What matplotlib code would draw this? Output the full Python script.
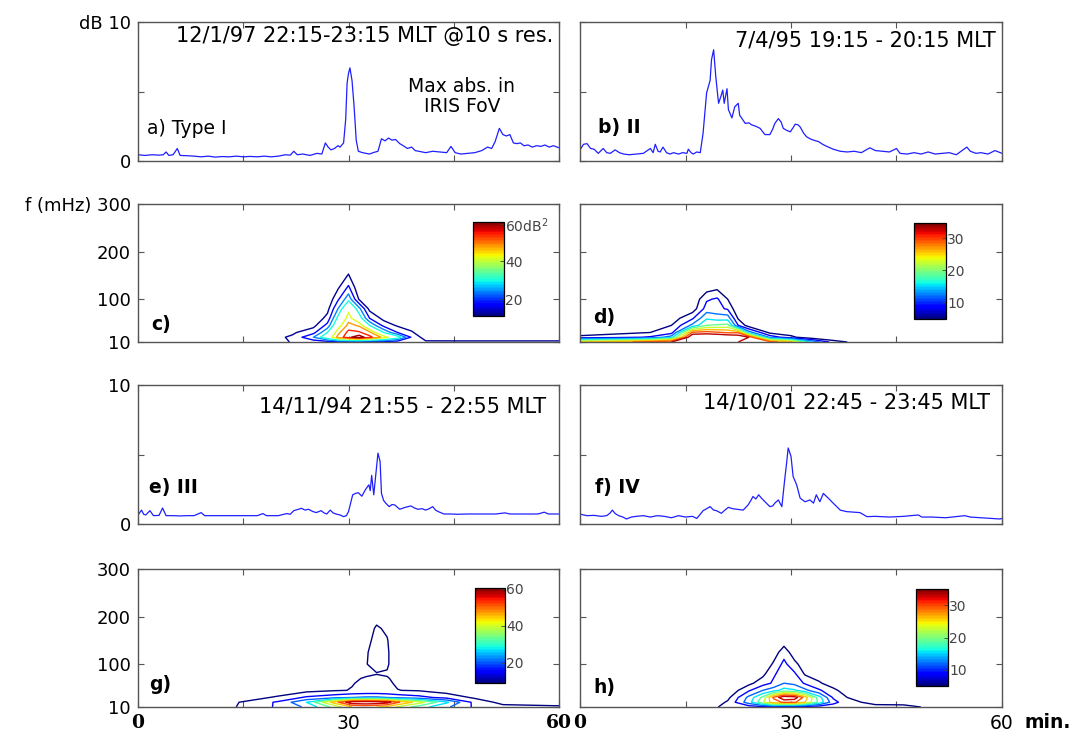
import numpy as np
import matplotlib
matplotlib.use('Agg')
import matplotlib.pyplot as plt
from matplotlib.colors import Normalize
from matplotlib.colorbar import ColorbarBase

# ---- absorption time series (dB) ----
ta = [0, 1, 2, 3, 3.6, 4.0, 4.4, 5.0, 5.6, 6.0, 7, 8, 9, 10, 11, 12, 13, 14, 15, 16, 17, 18, 19, 20,
      21, 21.7, 22.2, 22.7, 23.5, 24.5, 25.5, 26.2, 26.7, 27.1, 27.5, 28, 28.5, 28.8, 29.3, 29.6, 29.8,
      30.0, 30.2, 30.5, 30.8, 31.1, 31.4, 32, 32.5, 33, 33.5, 34.2, 34.7, 35.2, 35.7, 36.2, 36.7, 37.3,
      37.8, 38.4, 39, 39.5, 40, 41, 42, 43, 44, 44.6, 45.2, 46, 47, 48, 49, 49.8, 50.4, 50.9, 51.5, 52.0,
      52.5, 53, 53.5, 54, 54.5, 55, 55.6, 56.2, 56.8, 57.4, 58, 58.6, 59.2, 60]
va = [0.45, 0.4, 0.45, 0.42, 0.45, 0.65, 0.4, 0.45, 0.9, 0.4, 0.38, 0.35, 0.3, 0.35, 0.28, 0.32, 0.3,
      0.35, 0.3, 0.33, 0.3, 0.35, 0.3, 0.35, 0.45, 0.42, 0.7, 0.45, 0.5, 0.4, 0.55, 0.5, 1.3, 1.0, 0.8,
      0.9, 1.1, 1.0, 1.3, 3.0, 5.6, 6.3, 6.7, 5.8, 3.9, 1.5, 0.7, 0.6, 0.55, 0.5, 0.6, 0.7, 1.6, 1.45,
      1.65, 1.5, 1.55, 1.25, 1.1, 0.9, 1.0, 0.75, 0.7, 0.6, 0.7, 0.65, 0.6, 1.05, 0.6, 0.5, 0.55, 0.6,
      0.75, 1.0, 0.9, 1.4, 2.35, 1.9, 1.8, 1.9, 1.3, 1.25, 1.3, 1.1, 1.15, 1.0, 1.1, 1.05, 1.15, 1.0,
      1.1, 0.95]

tb = [0, 0.5, 1.0, 1.5, 2.0, 2.6, 3.3, 3.8, 4.3, 5.0, 5.6, 6.2, 7, 8, 9, 10, 10.4, 10.7, 11.1, 11.4,
      11.8, 12.3, 12.8, 13.3, 14, 14.6, 15.2, 15.4, 15.8, 16.1, 16.6, 17.1, 17.5, 18.0, 18.5, 18.7, 19.0,
      19.3, 19.7, 20.0, 20.3, 20.5, 20.9, 21.1, 21.6, 22.0, 22.5, 22.7, 23.1, 23.5, 24.0, 24.4, 25.0,
      25.6, 26.3, 27.0, 27.4, 27.7, 28.2, 28.6, 28.9, 29.4, 29.9, 30.3, 30.6, 31.0, 31.3, 31.8, 32.2,
      32.7, 33.2, 33.9, 34.5, 35.1, 36, 37, 38, 39, 40, 41.2, 42, 43, 44, 45, 45.5, 46.5, 47.5, 48.5,
      49.5, 50.5, 51.5, 52.5, 53.5, 55, 55.5, 56.3, 57, 58, 59, 60]
vb = [0.8, 1.2, 1.25, 0.9, 0.85, 0.55, 0.9, 0.6, 0.55, 0.8, 0.6, 0.5, 0.45, 0.5, 0.55, 0.9, 0.6, 1.2,
      0.7, 0.65, 1.0, 0.6, 0.5, 0.6, 0.5, 0.6, 0.55, 0.85, 0.6, 0.5, 0.65, 0.6, 2.0, 4.9, 5.8, 7.3, 8.0,
      6.1, 4.15, 4.6, 5.1, 4.15, 5.2, 3.7, 3.1, 3.9, 4.15, 3.3, 3.0, 2.7, 2.75, 2.6, 2.5, 2.35, 1.9, 1.9,
      2.3, 2.7, 3.05, 2.8, 2.35, 2.2, 2.1, 2.4, 2.65, 2.6, 2.45, 2.0, 1.75, 1.6, 1.5, 1.4, 1.2, 1.05,
      0.85, 0.7, 0.65, 0.7, 0.6, 0.95, 0.75, 0.7, 0.65, 0.9, 0.55, 0.5, 0.6, 0.5, 0.65, 0.5, 0.55, 0.6,
      0.45, 1.0, 0.7, 0.55, 0.6, 0.5, 0.75, 0.55]

te = [0, 0.5, 0.8, 1.1, 1.7, 2.2, 3, 3.5, 4.0, 5, 6, 7, 8, 9.0, 9.5, 11, 13, 15, 17, 17.8, 18.3, 20,
      21.2, 21.7, 22.2, 22.8, 23.3, 23.8, 24.3, 24.9, 25.4, 26.1, 26.5, 26.9, 27.4, 27.8, 28.2, 28.8,
      29.3, 29.7, 30.0, 30.3, 30.6, 31.0, 31.4, 31.9, 32.4, 32.9, 33.1, 33.3, 33.6, 34.0, 34.2, 34.5,
      34.7, 35.0, 35.3, 35.8, 36.2, 36.6, 37.3, 38.1, 38.9, 39.4, 39.9, 40.5, 41, 41.5, 42, 42.4, 42.8,
      43.6, 44.6, 45.5, 47, 49, 51, 52.3, 53, 55, 57, 57.9, 58.5, 60]
ve = [0.65, 1.0, 0.7, 0.65, 0.96, 0.6, 0.62, 1.15, 0.6, 0.6, 0.58, 0.6, 0.6, 0.82, 0.6, 0.6, 0.6, 0.6,
      0.6, 0.75, 0.6, 0.6, 0.75, 0.7, 0.96, 1.05, 1.13, 1.0, 1.06, 0.9, 0.82, 0.96, 0.8, 0.72, 1.0, 0.8,
      0.72, 0.65, 0.53, 0.6, 0.89, 1.5, 2.1, 2.2, 2.25, 2.0, 2.46, 2.82, 2.4, 3.5, 2.1, 4.1, 5.1, 4.5,
      2.2, 1.7, 1.5, 1.25, 1.4, 1.37, 1.06, 1.2, 1.3, 1.15, 1.06, 1.1, 1.0, 1.1, 1.25, 1.0, 0.89, 0.72,
      0.72, 0.7, 0.72, 0.72, 0.72, 0.8, 0.72, 0.72, 0.72, 0.85, 0.72, 0.72]

tf = [0, 0.5, 1, 2, 3, 3.8, 4.3, 4.6, 5.0, 5.5, 6.1, 6.6, 7.3, 8, 9, 10, 11, 12, 13, 14, 15, 16, 16.6,
      17.1, 17.5, 18, 18.5, 19, 19.4, 20.1, 20.6, 21.1, 21.7, 22.3, 23.2, 23.9, 24.3, 24.6, 25.0, 25.4,
      25.8, 26.3, 27, 27.4, 27.7, 28.2, 28.7, 29.1, 29.4, 29.6, 30.0, 30.3, 30.8, 31.3, 32.0, 32.7,
      33.2, 33.6, 34.1, 34.6, 35.3, 36, 37, 37.9, 39, 39.8, 40.8, 42, 44, 46, 48.1, 48.6, 50, 52, 54.7,
      55.5, 57, 58.5, 59.7, 60]
vf = [0.72, 0.65, 0.6, 0.62, 0.55, 0.6, 0.8, 1.0, 0.75, 0.6, 0.5, 0.36, 0.5, 0.55, 0.6, 0.5, 0.6, 0.55,
      0.45, 0.6, 0.5, 0.55, 0.4, 0.7, 0.96, 1.1, 1.25, 1.0, 0.96, 0.77, 1.0, 1.2, 1.1, 1.06, 1.0, 1.37,
      1.7, 1.98, 1.8, 2.1, 1.86, 1.6, 1.25, 1.3, 1.5, 1.73, 1.25, 3.18, 4.5, 5.47, 4.87, 3.42, 2.82,
      1.86, 1.6, 1.73, 1.5, 2.1, 1.6, 2.2, 1.86, 1.5, 1.0, 0.89, 0.85, 0.82, 0.53, 0.55, 0.5, 0.55,
      0.65, 0.5, 0.5, 0.45, 0.6, 0.5, 0.45, 0.4, 0.36, 0.4]

# ---- spectral power grids (dB^2), one row per time node ----
f_nodes = [10, 20, 30, 45, 60, 80, 100, 125, 150, 175, 200, 300]
f_nodes_g = [10, 20, 30, 45, 60, 70, 80, 100, 125, 150, 175, 200, 300]

tc = [0, 10, 19, 22, 25, 27, 28.5, 30, 31.5, 33, 35, 37, 39, 41, 45, 60]
zc = [[6, 3, 2, 1, 1, 1, 1, 0, 0, 0, 0, 0],
      [6, 3, 2, 1, 1, 1, 1, 0, 0, 0, 0, 0],
      [9, 10, 4, 2, 1, 1, 1, 0, 0, 0, 0, 0],
      [12.5, 13, 11, 8, 5, 3, 2, 1, 0, 0, 0, 0],
      [14, 24, 16, 10, 7, 5, 4, 3, 2, 1, 0, 0],
      [15, 36, 30, 20, 14, 10, 7, 5, 3, 2, 1, 0],
      [16, 50, 46, 38, 32, 24, 17, 11, 7, 5, 3, 2],
      [16, 58, 56, 50, 45, 40, 28, 19, 12.5, 8, 5, 2],
      [16, 62, 55, 47, 34, 26, 11.5, 7, 4, 3, 2, 1],
      [15, 56, 50, 30, 18, 10, 6, 4, 2, 1, 1, 1],
      [15, 46, 30, 16, 10, 7, 5, 3, 2, 1, 0, 0],
      [14, 34, 18, 11, 7, 5, 3, 2, 1, 1, 0, 0],
      [14, 17, 13, 8, 5, 3, 2, 1, 1, 0, 0, 0],
      [13, 9, 6, 4, 3, 2, 1, 1, 0, 0, 0, 0],
      [13.5, 7, 5, 3, 2, 1, 1, 0, 0, 0, 0, 0],
      [13.5, 7, 5, 3, 2, 1, 1, 0, 0, 0, 0, 0]]

td = [0, 5, 10, 13, 16, 18, 19.5, 21, 22.5, 24, 27, 30, 33, 36, 39, 45, 60]
zd = [[26, 6, 3, 2, 1, 1, 0, 0, 0, 0, 0, 0],
      [28, 7, 4, 2, 1, 1, 0, 0, 0, 0, 0, 0],
      [31, 9, 5, 3, 2, 1, 1, 0, 0, 0, 0, 0],
      [33, 14, 7, 5, 3, 2, 1, 1, 0, 0, 0, 0],
      [34, 38, 30, 13, 8, 3, 2, 1, 0, 0, 0, 0],
      [34, 38, 31, 19, 15, 10, 8, 3, 1, 0, 0, 0],
      [34, 38, 30, 19.5, 14, 9.5, 9, 4, 1, 0, 0, 0],
      [34, 37, 29, 20, 14, 8, 5, 3, 1, 0, 0, 0],
      [33, 36, 29, 8.5, 4.5, 2, 1, 0, 0, 0, 0, 0],
      [32, 33, 14, 3, 2, 1, 0, 0, 0, 0, 0, 0],
      [31, 11, 4, 2, 1, 0, 0, 0, 0, 0, 0, 0],
      [27, 6, 3, 2, 1, 0, 0, 0, 0, 0, 0, 0],
      [15, 2, 1, 1, 0, 0, 0, 0, 0, 0, 0, 0],
      [7, 1, 1, 0, 0, 0, 0, 0, 0, 0, 0, 0],
      [4, 1, 0, 0, 0, 0, 0, 0, 0, 0, 0, 0],
      [3, 1, 0, 0, 0, 0, 0, 0, 0, 0, 0, 0],
      [3, 1, 0, 0, 0, 0, 0, 0, 0, 0, 0, 0]]

tg = [0, 12, 15, 20, 24, 28, 30.5, 32.5, 34, 35.5, 37, 40, 44, 48, 52, 60]
zg = [[5, 5, 3, 2, 1, 1, 1, 1, 0, 0, 0, 0, 0],
      [7, 7, 4, 2, 1, 1, 1, 1, 0, 0, 0, 0, 0],
      [10, 9.5, 6, 3, 2, 1, 1, 1, 0, 0, 0, 0, 0],
      [16, 16, 10, 5, 3, 2, 2, 1, 1, 0, 0, 0, 0],
      [22, 27, 16, 7, 4, 3, 2, 2, 1, 0, 0, 0, 0],
      [35, 48, 19, 8.5, 5, 4, 3, 2, 1, 1, 0, 0, 0],
      [45, 62, 21, 9.2, 8.8, 8.5, 8, 6, 4, 3, 2, 1, 0],
      [46, 63, 22, 9.4, 9.8, 9.3, 8.5, 8.8, 8.5, 7.5, 6, 4, 1],
      [45, 62, 22, 9.5, 10.5, 10.2, 8.8, 10.5, 11, 10.5, 9.8, 7, 2],
      [43, 60, 21, 9.2, 9.6, 9.3, 8.6, 9.6, 9.8, 9.4, 8, 5, 1],
      [38, 52, 19, 9.1, 8.5, 8, 7, 6, 5, 4, 3, 2, 0],
      [30, 42, 17, 8.5, 6, 5, 4, 3, 2, 1, 1, 0, 0],
      [22, 28, 13, 6, 4, 3, 2, 2, 1, 0, 0, 0, 0],
      [14, 13, 8, 4, 3, 2, 2, 1, 1, 0, 0, 0, 0],
      [11, 7, 5, 3, 2, 1, 1, 1, 0, 0, 0, 0, 0],
      [10, 6, 4, 2, 1, 1, 1, 0, 0, 0, 0, 0, 0]]

th = [0, 15, 19, 21, 24, 26, 27.5, 29, 30.5, 32, 34, 36, 38, 42, 46, 50, 60]
zh = [[3, 2, 1, 1, 0, 0, 0, 0, 0, 0, 0, 0],
      [3, 2, 1, 1, 0, 0, 0, 0, 0, 0, 0, 0],
      [4.5, 3, 2, 1, 0, 0, 0, 0, 0, 0, 0, 0],
      [6, 5.5, 4, 2, 1, 0, 0, 0, 0, 0, 0, 0],
      [6.5, 14, 13, 8, 4, 2, 1, 0, 0, 0, 0, 0],
      [7, 22, 20, 12, 7, 4, 2, 1, 0, 0, 0, 0],
      [7.5, 28, 30, 14, 9, 8, 5.5, 3, 1, 0, 0, 0],
      [6, 30, 36, 17, 12, 10, 9.5, 7, 3, 2, 1, 0],
      [6, 30, 35, 16, 11, 9, 6, 3, 2, 1, 0, 0],
      [6, 26, 28, 13, 8, 4.5, 3, 2, 1, 0, 0, 0],
      [6, 18, 17, 9, 5.5, 3, 2, 1, 0, 0, 0, 0],
      [6, 10, 8, 6, 3, 2, 1, 0, 0, 0, 0, 0],
      [6, 6, 5, 3, 2, 1, 0, 0, 0, 0, 0, 0],
      [6, 4, 3, 2, 1, 0, 0, 0, 0, 0, 0, 0],
      [5.8, 4, 3, 2, 1, 0, 0, 0, 0, 0, 0, 0],
      [4.5, 3, 2, 1, 0, 0, 0, 0, 0, 0, 0, 0],
      [3, 2, 1, 1, 0, 0, 0, 0, 0, 0, 0, 0]]

W, H = 1070, 734
plt.rcParams['font.family'] = ['DejaVu Sans']
fig = plt.figure(figsize=(W / 100, H / 100), dpi=100)
jet = plt.get_cmap('jet', 64)


def px_axes(x0, y0, x1, y1):
    return fig.add_axes([x0 / W, 1 - y1 / H, (x1 - x0) / W, (y1 - y0) / H])


def px_text(x, y, s, **kw):
    fig.text(x / W, 1 - y / H, s, **kw)


def style(ax, ylim, yticks, ylabels):
    ax.set_xlim(0, 60)
    ax.set_ylim(*ylim)
    ax.set_xticks([0, 15, 30, 45, 60])
    ax.set_xticklabels([])
    ax.set_yticks(yticks)
    ax.set_yticklabels(ylabels, fontsize=13)
    ax.tick_params(direction='in', top=True, right=True, length=4, width=0.8,
                   color='#555555', pad=5)
    for s in ax.spines.values():
        s.set_color('#555555')
        s.set_linewidth(1.0)


def series(box, t, v, ylabels):
    ax = px_axes(*box)
    ax.plot(t, v, color='#1f1fff', lw=0.9)
    style(ax, (0, 10), [0, 5, 10], ylabels)
    return ax


def spectrum(box, t, f, z, levels, vmin, vmax, ylabels, cbox, cticks, clabels):
    ax = px_axes(*box)
    norm = Normalize(vmin, vmax)
    ax.contour(t, f, np.array(z).T, levels=levels, cmap=jet, norm=norm, linewidths=1.0)
    style(ax, (10, 300), [10, 100, 200, 300], ylabels)
    cax = px_axes(*cbox)
    cb = ColorbarBase(cax, cmap=jet, norm=norm, ticks=cticks)
    cb.set_ticklabels(clabels)
    cb.ax.tick_params(labelsize=10, length=3, width=0.6, direction='in',
                      colors='#444444', pad=1)
    cb.outline.set_linewidth(0.9)
    return ax


L, R = (138, 559), (580, 1002)

series((L[0], 22, L[1], 161), ta, va, ['0', '', 'dB 10'])
series((R[0], 22, R[1], 161), tb, vb, ['', '', ''])
series((L[0], 385, L[1], 524), te, ve, ['0', '', '10'])
series((R[0], 385, R[1], 524), tf, vf, ['', '', ''])

spectrum((L[0], 204, L[1], 342), tc, f_nodes, zc, [12, 18, 24, 30, 42, 48, 54, 59], 11, 61,
         ['10', '100', '200', 'f (mHz) 300'], (473, 222, 504, 316), [20, 40, 60],
         ['20', '40', '60dB$^2$'])
spectrum((R[0], 204, R[1], 342), td, f_nodes, zd, [5, 8.5, 12, 15.5, 19, 22.5, 26, 29.5, 33],
         4.8, 34.7, ['', '', '', ''], (914, 223, 946, 319), [10, 20, 30], ['10', '20', '30'])
ag = spectrum((L[0], 569, L[1], 707), tg, f_nodes_g, zg, [9, 15, 21, 27, 33, 39, 45, 51, 57],
              9, 60.3, ['10', '100', '200', '300'], (475, 588, 505, 683), [20, 40, 60],
              ['20', '40', '60'])
ah = spectrum((R[0], 569, R[1], 707), th, f_nodes, zh, [5, 8.5, 12, 15.5, 19, 22.5, 26, 29.5, 33],
              5, 35, ['', '', '', ''], (916, 589, 948, 686), [10, 20, 30], ['10', '20', '30'])

# bottom time axis labels (mixed fonts as in the original)
for ax, serif60 in ((ag, True), (ah, False)):
    labs = ax.set_xticklabels(['0', '', '30', '', '60'], fontsize=13.5)
    ax.tick_params(axis='x', pad=5)
    labs[0].set_fontfamily('DejaVu Serif')
    labs[0].set_fontweight('bold')
    if serif60:
        labs[4].set_fontfamily('DejaVu Serif')
        labs[4].set_fontweight('bold')
px_text(1024, 723, 'min.', fontsize=13.5, fontweight='bold', va='center', ha='left')

# annotations
px_text(553, 36, '12/1/97 22:15-23:15 MLT @10 s res.', fontsize=15, ha='right', va='center')
px_text(462, 87, 'Max abs. in', fontsize=13.5, ha='center', va='center')
px_text(462, 107, 'IRIS FoV', fontsize=13.5, ha='center', va='center')
px_text(147, 128, 'a) Type I', fontsize=13.5, ha='left', va='center')
px_text(996, 40, '7/4/95 19:15 - 20:15 MLT', fontsize=15, ha='right', va='center')
px_text(598, 128, 'b) II', fontsize=13.5, fontweight='bold', ha='left', va='center')
px_text(151, 325, 'c)', fontsize=13.5, fontweight='bold', ha='left', va='center')
px_text(593, 317, 'd)', fontsize=13.5, fontweight='bold', ha='left', va='center')
px_text(546, 407, '14/11/94 21:55 - 22:55 MLT', fontsize=15, ha='right', va='center')
px_text(149, 488, 'e) III', fontsize=13.5, fontweight='bold', ha='left', va='center')
px_text(990, 403, '14/10/01 22:45 - 23:45 MLT', fontsize=15, ha='right', va='center')
px_text(595, 488, 'f) IV', fontsize=13.5, fontweight='bold', ha='left', va='center')
px_text(149, 685, 'g)', fontsize=13.5, fontweight='bold', ha='left', va='center')
px_text(593, 688, 'h)', fontsize=13.5, fontweight='bold', ha='left', va='center')

fig.savefig('out.png', dpi=100)
